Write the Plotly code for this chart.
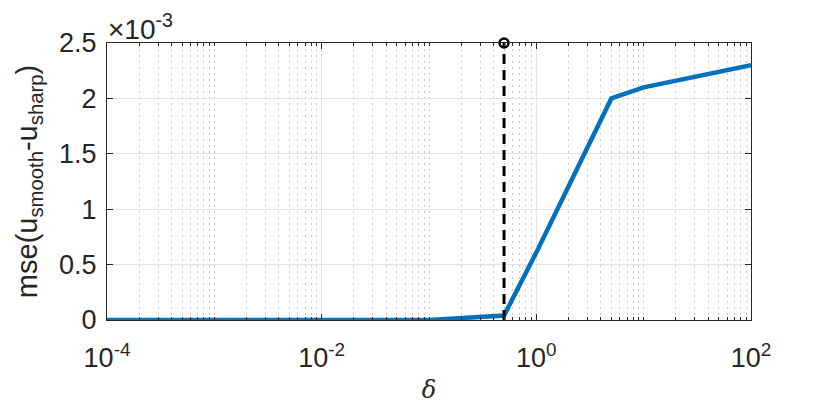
import plotly.graph_objects as go

# data
delta = [1e-4, 1e-3, 1e-2, 1e-1, 0.5, 1, 5, 10, 100]
mse = [0, 0, 0, 0, 0.00004, 0.00061, 0.0020, 0.0021, 0.0023]

# stem marking the chosen delta
stem_x = [0.5, 0.5]
stem_y = [0, 0.0025]

x_tickvals = [1e-4, 1e-2, 1, 100]
x_ticktext = ['10<sup>-4</sup>', '10<sup>-2</sup>', '10<sup>0</sup>', '10<sup>2</sup>']
y_tickvals = [0, 0.0005, 0.001, 0.0015, 0.002, 0.0025]
y_ticktext = ['0', '0.5', '1', '1.5', '2', '2.5']

font = 'Liberation Sans, Arial, sans-serif'
axis_col = '#262626'

fig = go.Figure()
fig.add_trace(go.Scatter(x=delta, y=mse, mode='lines',
                         line=dict(color='#0072BD', width=4.5)))
fig.add_trace(go.Scatter(x=stem_x, y=stem_y, mode='lines',
                         line=dict(color='black', width=3, dash='10px,6px')))
fig.add_trace(go.Scatter(x=stem_x[1:], y=stem_y[1:], mode='markers',
                         marker=dict(symbol='circle-open', size=9, color='black',
                                     line=dict(width=2.5)),
                         cliponaxis=False))

fig.update_xaxes(
    type='log', range=[-4, 2], automargin=False,
    tickvals=x_tickvals, ticktext=x_ticktext,
    ticks='inside', ticklen=6, tickcolor=axis_col, ticklabelstandoff=14,
    showline=True, linecolor=axis_col, linewidth=1, mirror='allticks',
    showgrid=True, gridcolor='#e3e3e3', gridwidth=1,
    minor=dict(dtick='D1', ticks='inside', ticklen=3, tickcolor=axis_col,
               showgrid=True, gridcolor='#c8c8c8', griddash='2px,4px', gridwidth=1),
    zeroline=False,
    tickfont=dict(family=font, size=27, color=axis_col),
    title=dict(text='<i>δ</i>', font=dict(family='DejaVu Serif, serif', size=24, color=axis_col),
               standoff=8),
)
fig.update_yaxes(
    range=[0, 0.0025], automargin=False,
    tickvals=y_tickvals, ticktext=y_ticktext,
    ticks='inside', ticklen=6, tickcolor=axis_col, ticklabelstandoff=4,
    showline=True, linecolor=axis_col, linewidth=1, mirror='allticks',
    showgrid=True, gridcolor='#e3e3e3', gridwidth=1,
    zeroline=False,
    tickfont=dict(family=font, size=27, color=axis_col),
    title=dict(text='mse(u<sub>smooth</sub>-u<sub>sharp</sub>)',
               font=dict(family=font, size=29, color=axis_col), standoff=12),
)

# exponent label above the y axis
fig.add_annotation(x=0, y=1, xref='paper', yref='paper', xanchor='left', yanchor='bottom',
                   text='×10<sup>-3</sup>', showarrow=False, yshift=-4, xshift=-1,
                   font=dict(family=font, size=28, color=axis_col))

# margins offset by the 8px page margin of the html body
fig.update_layout(
    width=830, height=410,
    margin=dict(l=99, r=87, t=35, b=98),
    paper_bgcolor='white', plot_bgcolor='white',
    showlegend=False,
)

fig.write_html("out.html")
